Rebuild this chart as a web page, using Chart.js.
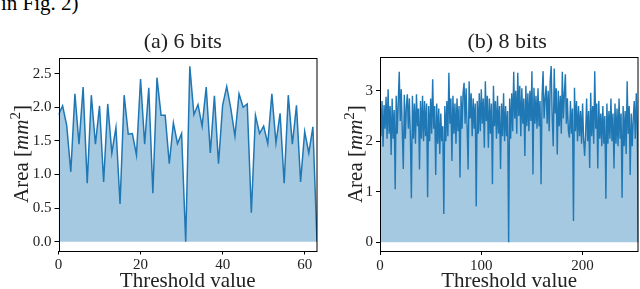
<!DOCTYPE html>
<html>
<head>
<meta charset="utf-8">
<script src="https://cdn.jsdelivr.net/npm/chart.js@4/dist/chart.umd.min.js"></script>
<style>
  html, body { margin: 0; padding: 0; background: #fff; }
  body { width: 640px; height: 289px; position: relative; overflow: hidden; }
  #cap { position: absolute; left: 1px; top: -7px; font: 21px/20px "Liberation Serif", serif; color: #000; white-space: nowrap; }
  .box { position: absolute; top: 0; width: 320px; height: 289px; }
  #wa { left: 0; }
  #wb { left: 320px; }
</style>
</head>
<body>
<div id="cap">in Fig. 2)</div>
<div class="box" id="wa"><canvas id="ca" width="320" height="289"></canvas></div>
<div class="box" id="wb"><canvas id="cb" width="320" height="289"></canvas></div>
<script>
// ---- data ----
const titleA = "(a) 6 bits";
const titleB = "(b) 8 bits";
const xLabel = "Threshold value";

const area6 = [
  1.89, 2.02, 1.73, 1.04, 2.20, 1.45, 2.30, 0.87, 2.18, 1.45, 2.02, 0.89, 2.05, 1.32, 1.70, 0.56,
  2.18, 1.60, 1.61, 1.29, 2.42, 1.45, 2.29, 0.72, 2.44, 1.88, 1.88, 1.16, 1.77, 1.46, 1.61, 0.00,
  2.61, 1.89, 2.04, 1.72, 2.30, 1.32, 2.17, 1.16, 2.03, 2.31, 1.98, 1.57, 2.20, 2.00, 2.05, 0.43,
  1.88, 1.61, 1.72, 1.46, 2.20, 1.47, 1.91, 0.87, 2.18, 1.45, 2.03, 0.89, 1.64, 1.32, 1.71, 0.00
];

const area8 = [
  2.93, 2.10, 2.80, 1.89, 2.72, 2.25, 2.88, 2.05, 3.03, 2.15, 2.70, 1.73, 2.85, 2.05, 2.62, 1.05,
  2.90, 2.15, 2.78, 3.38, 2.40, 3.03, 2.20, 1.45, 2.92, 2.05, 2.70, 2.93, 2.25, 2.85, 2.10, 0.87,
  2.90, 2.05, 2.75, 1.95, 2.93, 2.30, 2.65, 1.44, 2.80, 2.05, 2.90, 2.00, 2.80, 2.10, 2.75, 0.89,
  2.70, 2.00, 2.85, 2.15, 3.23, 2.25, 2.70, 1.33, 2.75, 1.95, 2.65, 1.75, 2.55, 2.00, 2.30, 0.56,
  2.70, 2.00, 2.80, 2.10, 3.36, 2.35, 2.85, 1.61, 2.90, 2.15, 2.75, 1.95, 2.85, 2.20, 2.70, 1.28,
  2.90, 2.25, 2.95, 3.16, 2.35, 3.05, 2.30, 1.44, 3.19, 2.45, 2.95, 2.10, 2.85, 2.25, 2.75, 0.71,
  2.80, 2.15, 2.95, 2.20, 3.03, 2.35, 2.85, 1.87, 3.19, 2.40, 2.90, 1.87, 2.85, 2.15, 2.75, 1.15,
  3.10, 2.30, 2.80, 2.05, 2.90, 2.15, 2.70, 1.45, 2.75, 2.10, 2.95, 2.00, 2.70, 2.10, 2.60, 0.00,
  2.85, 2.05, 2.95, 2.20, 3.38, 2.45, 3.00, 2.15, 3.36, 2.50, 3.10, 2.10, 3.05, 2.35, 2.85, 1.71,
  3.10, 2.30, 2.95, 2.20, 3.00, 2.40, 3.39, 1.34, 3.06, 2.35, 2.90, 2.25, 3.05, 2.30, 2.80, 1.15,
  2.90, 3.39, 2.45, 2.85, 3.10, 2.35, 3.00, 2.20, 3.20, 3.49, 2.50, 1.90, 3.44, 2.55, 3.05, 1.74,
  3.00, 2.30, 2.90, 2.15, 3.38, 2.45, 2.95, 3.33, 2.35, 2.85, 2.20, 2.07, 2.80, 2.15, 2.65, 0.42,
  3.06, 2.20, 2.80, 2.00, 2.70, 2.10, 2.60, 1.95, 2.75, 2.05, 1.71, 2.15, 2.85, 2.00, 2.60, 1.47,
  2.96, 2.10, 2.70, 1.95, 3.39, 2.25, 2.75, 1.46, 2.80, 2.05, 2.55, 1.90, 2.70, 1.95, 2.50, 0.86,
  2.75, 1.95, 2.60, 2.05, 2.85, 2.00, 2.55, 1.46, 2.75, 1.95, 2.65, 1.90, 2.85, 2.05, 2.55, 0.88,
  2.70, 1.90, 2.60, 1.75, 3.19, 2.15, 2.70, 1.33, 2.55, 1.90, 2.45, 2.80, 2.05, 2.95, 2.20, 0.00
];

const yTicksA = [0.0, 0.5, 1.0, 1.5, 2.0, 2.5];
const yTicksB = [0, 1, 2, 3];
const xTicksA = [0, 20, 40, 60];
const xTicksB = [0, 100, 200];

// ---- rendering ----
const LINE = '#1f77b4';
const FILL = 'rgba(31,119,180,0.4)';
const SERIF = '"Liberation Serif", "DejaVu Serif", serif';

function textPlugin(title, titleDx, ylabX) {
  return {
    id: 'texts',
    afterDraw(chart) {
      const ctx = chart.ctx, a = chart.chartArea;
      ctx.save();
      ctx.strokeStyle = '#000';
      ctx.lineWidth = 1;
      ctx.strokeRect(Math.round(a.left) + 0.5, Math.round(a.top) + 0.5,
                     Math.round(a.right) - Math.round(a.left) - 1 + 0.5, Math.round(a.bottom) - Math.round(a.top));
      ctx.fillStyle = '#222';
      ctx.font = '22px ' + SERIF;
      ctx.textAlign = 'center';
      ctx.textBaseline = 'alphabetic';
      ctx.fillText(title, (a.left + a.right) / 2 + titleDx, 48);
      ctx.font = '21px ' + SERIF;
      ctx.fillText(xLabel, (a.left + a.right) / 2, 287);
      const pieces = [
        { t: 'Area [', f: '21px ' + SERIF, dy: 0 },
        { t: 'mm', f: 'italic 21px ' + SERIF, dy: 0 },
        { t: '2', f: '15px ' + SERIF, dy: -8 },
        { t: ']', f: '21px ' + SERIF, dy: 0 }
      ];
      let total = 0;
      pieces.forEach(p => { ctx.font = p.f; p.w = ctx.measureText(p.t).width; total += p.w; });
      ctx.translate(ylabX, (a.top + a.bottom) / 2);
      ctx.rotate(-Math.PI / 2);
      ctx.textAlign = 'left';
      let x = -total / 2;
      pieces.forEach(p => { ctx.font = p.f; ctx.fillText(p.t, x, p.dy); x += p.w; });
      ctx.restore();
    }
  };
}

function makeChart(id, values, xMax, yMin, yMax, yTicks, xTicks, yFmt, yW, xH, padR, padT, title, titleDx, ylabX, lw) {
  const pts = values.map((v, i) => ({ x: i, y: v }));
  return new Chart(document.getElementById(id), {
    type: 'line',
    data: {
      datasets: [{
        data: pts,
        borderColor: LINE,
        backgroundColor: FILL,
        borderWidth: lw,
        pointRadius: 0,
        tension: 0,
        fill: 'origin'
      }]
    },
    options: {
      responsive: false,
      animation: false,
      devicePixelRatio: 1,
      layout: { padding: { top: padT, right: padR, left: 0, bottom: 0 } },
      plugins: { legend: { display: false }, tooltip: { enabled: false }, title: { display: false } },
      scales: {
        x: {
          type: 'linear', min: 0, max: xMax,
          afterBuildTicks(s) { s.ticks = xTicks.map(v => ({ value: v })); },
          afterFit(s) { s.height = xH; },
          grid: { display: true, drawOnChartArea: false, drawTicks: true, tickLength: 4, color: '#000', lineWidth: 1 },
          border: { display: false },
          ticks: { color: '#222', font: { family: SERIF, size: 15 }, padding: 2, maxRotation: 0, autoSkip: false,
                   callback: v => String(v) }
        },
        y: {
          type: 'linear', min: yMin, max: yMax,
          afterBuildTicks(s) { s.ticks = yTicks.map(v => ({ value: v })); },
          afterFit(s) { s.width = yW; },
          grid: { display: true, drawOnChartArea: false, drawTicks: true, tickLength: 4, color: '#000', lineWidth: 1 },
          border: { display: false },
          ticks: { color: '#222', font: { family: SERIF, size: 15 }, padding: 3, autoSkip: false,
                   callback: v => yFmt(v) }
        }
      }
    },
    plugins: [textPlugin(title, titleDx, ylabX)]
  });
}

makeChart('ca', area6, 63, -0.1305, 2.7405, yTicksA, xTicksA, v => v.toFixed(1),
          58.5, 38.5, 3, 57.5, titleA, -5, 27.7, 1.5);
makeChart('cb', area8, 255, -0.1745, 3.6645, yTicksB, xTicksB, v => v.toFixed(0),
          60, 38, 1.7, 57.3, titleB, -2, 41.7, 1.4);
</script>
</body>
</html>
